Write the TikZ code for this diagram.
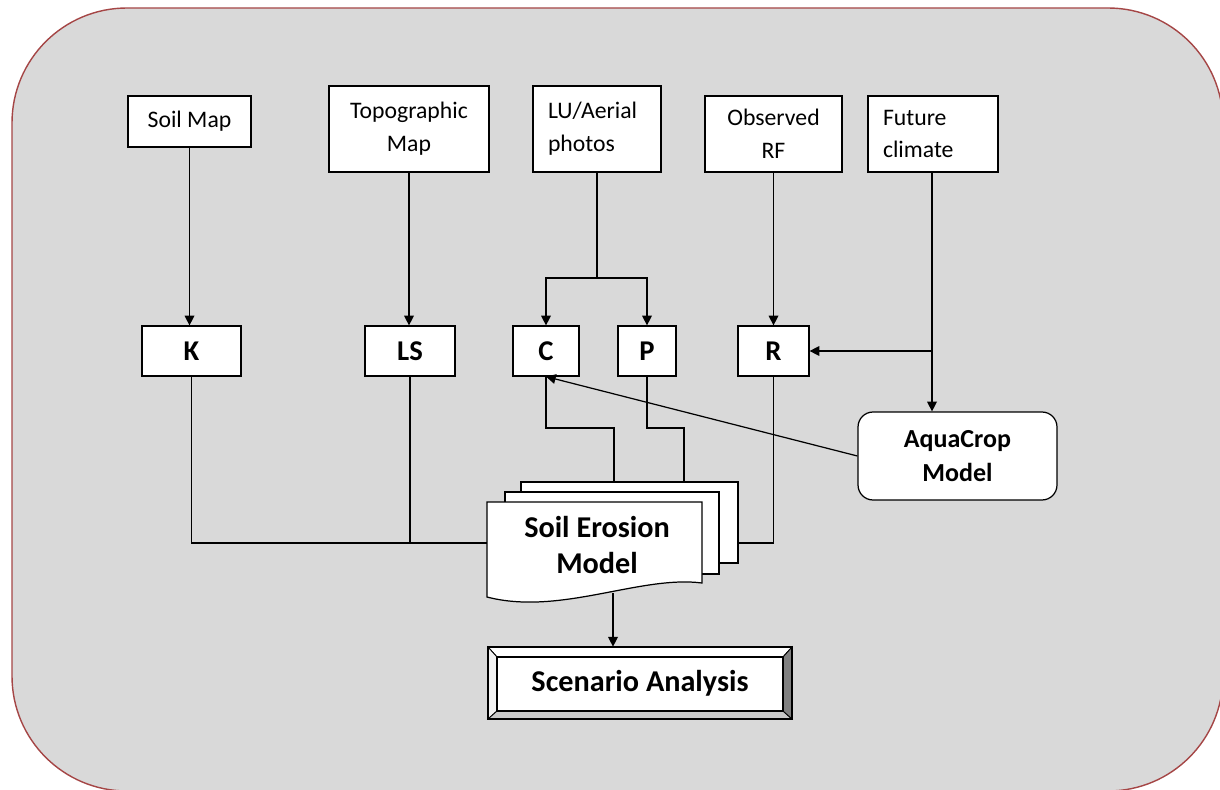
\documentclass[tikz,border=0pt]{standalone}
\usepackage{fontspec}
\setmainfont{Carlito}
\usetikzlibrary{arrows.meta}
\definecolor{bg}{RGB}{217,217,217}
\definecolor{framered}{RGB}{165,70,70}
\definecolor{bevlight}{RGB}{242,242,242}
\definecolor{bevmid}{RGB}{200,200,200}
\definecolor{bevdark}{RGB}{128,128,128}
\begin{document}
\begin{tikzpicture}[x=0.02cm,y=-0.02cm,
  src/.style={draw, fill=white, line width=0.7pt, inner sep=0pt, align=center,
    font=\fontsize{13.5}{18.7}\selectfont},
  fac/.style={draw, fill=white, line width=0.7pt, inner sep=0pt, minimum height=1cm,
    font=\fontsize{16.3}{19}\selectfont\bfseries},
  conn/.style={line width=0.7pt},
  arr/.style={conn, -{Triangle[length=5.5pt,width=5.5pt]}},
  page/.style={draw, fill=white, line width=0.7pt},
  bev/.style={draw, line width=0.5pt}
]
\useasboundingbox (0,0) rectangle (1220,790);
\begin{scope}
  \clip (0,0) rectangle (1220,790);
  \draw[framered, fill=bg, line width=0.8pt, rounded corners=2.3cm] (12,8) rectangle (1223,791);
\end{scope}

% source boxes
\node[src, minimum width=2.46cm, minimum height=1.02cm] (soil) at (189.5,121.5) {Soil Map};
\node[src, minimum width=3.2cm, minimum height=1.72cm] (topo) at (409,129) {Topographic\\Map};
\node[src, minimum width=2.56cm, minimum height=1.72cm, text width=1.96cm, align=left] (lu) at (597,129) {LU/Aerial\\photos};
\node[src, minimum width=2.74cm, minimum height=1.52cm] (obs) at (773.5,134) {Observed\\RF};
\node[src, minimum width=2.6cm, minimum height=1.52cm, text width=2.0cm, align=left] (fut) at (933,134) {Future\\climate};

% factor boxes
\node[fac, minimum width=1.98cm] (K) at (191.5,351) {K};
\node[fac, minimum width=1.8cm] (LS) at (410,351) {LS};
\node[fac, minimum width=1.32cm] (C) at (546,351) {C};
\node[fac, minimum width=1.16cm] (P) at (647,351) {P};
\node[fac, minimum width=1.42cm] (R) at (773.5,351) {R};

% AquaCrop
\node[draw, fill=white, line width=0.7pt, rounded corners=0.3cm, minimum width=3.98cm, minimum height=1.76cm,
  align=center, font=\fontsize{14.8}{19.8}\selectfont\bfseries] (aqua) at (957.5,456) {AquaCrop\\Model};

% multi-document shape
\draw[page] (521,482) rectangle (738,563);
\draw[page] (505,492) rectangle (719,574);
\draw[page] (487,502) -- (702,502) -- (702,583)
  .. controls (640,575) and (560,616) .. (487,597) -- cycle;
\node[align=center, font=\fontsize{17.2}{20.4}\selectfont\bfseries] (sem) at (597,545) {Soil Erosion\\Model};
\coordinate (semL) at (487,543);
\coordinate (semR) at (738,543);
\coordinate (semC) at (614,482);
\coordinate (semP) at (684,482);
\coordinate (semB) at (613,593);

% Scenario Analysis bevel box
\draw[bev, fill=white] (488,647) -- (792,647) -- (783,657) -- (497,657) -- cycle;
\draw[bev, fill=bevlight] (488,647) -- (497,657) -- (497,711) -- (488,719) -- cycle;
\draw[bev, fill=bevmid] (488,719) -- (497,711) -- (783,711) -- (792,719) -- cycle;
\draw[bev, fill=bevdark] (792,647) -- (792,719) -- (783,711) -- (783,657) -- cycle;
\draw[line width=0.8pt] (488,647) rectangle (792,719);
\draw[line width=0.7pt, fill=white] (497,657) rectangle (783,711);
\node[minimum width=6.08cm, minimum height=1.44cm, inner sep=0pt,
  font=\fontsize{17.2}{20}\selectfont\bfseries] (scen) at (640,683) {Scenario Analysis};

% connectors top
\draw[arr] (soil.south) -- (soil.south |- K.north);
\draw[arr] (topo.south) -- (topo.south |- LS.north);
\coordinate (split) at (597,278);
\draw[conn] (lu.south) -- (split);
\draw[arr] (split) -| (C.north);
\draw[arr] (split) -| (P.north);
\draw[arr] (obs.south) -- (obs.south |- R.north);
\draw[arr] (fut.south -| 932,0) -- (932,0 |- aqua.north);
\coordinate (branch) at (932,351);
\draw[arr] (branch) -- (R.east);
\draw[arr] (aqua.west) -- (C.south);

% connectors bottom
\draw[conn] (K.south) -- (K.south |- semL) -- (semL);
\draw[conn] (LS.south) -- (LS.south |- semL);
\draw[conn] (C.south) -- (546,428) -- (614,428) -- (semC);
\draw[conn] (P.south) -- (647,428) -- (684,428) -- (semP);
\draw[conn] (R.south) -- (R.south |- semR) -- (semR);
\draw[arr] (semB) -- (semB |- scen.north);
\end{tikzpicture}
\end{document}
